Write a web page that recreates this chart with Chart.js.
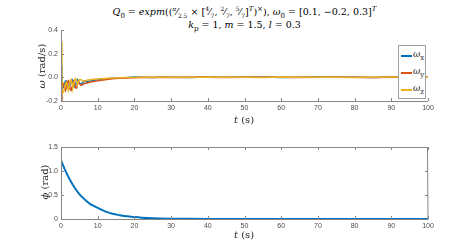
<!DOCTYPE html>
<html lang="en">
<head>
  <meta charset="UTF-8" />
  <title>Omega and phi response</title>
  <script src="https://cdn.jsdelivr.net/npm/chart.js"></script>
  <style>
    body {
      margin: 0;
      padding: 0;
      background: #fff;
      width: 473px;
      height: 248px;
      position: relative;
      overflow: hidden;
    }
    canvas { position: absolute; left: 0; }
    #c1 { top: 0; }
    #c2 { top: 130px; }
    .title {
      position: absolute;
      left: 8px;
      width: 473px;
      text-align: center;
      font-family: 'DejaVu Serif', serif;
      font-size: 9.5px;
      color: #000;
      white-space: nowrap;
    }
    .title i { font-style: italic; }
    .axlabel {
      position: absolute;
      font-family: 'DejaVu Serif', serif;
      font-size: 10px;
      color: #262626;
      white-space: nowrap;
    }
    .ylab { transform: translate(-50%, -50%) rotate(-90deg); }
    .xlab { transform: translate(-50%, -50%); }
    /* Legend box */
    .legend {
      position: absolute;
      left: 398px;
      top: 45px;
      width: 26px;
      height: 52px;
      border: 1px solid #a0a0a0;
      background: #fff;
      font-family: 'DejaVu Serif', serif;
      font-size: 9px;
      font-style: italic;
      color: #262626;
    }
    .legend .row { position: absolute; left: 2px; height: 12px; }
    .legend .sw { position: absolute; left: 0; top: 6px; width: 11px; height: 2px; }
    .legend .tx { position: absolute; left: 12px; top: 0; }
    .legend sub { font-size: 7px; font-style: normal; }
  </style>
</head>
<body>
  <div class="title" style="top:5px;"><i>Q</i><sub style="font-size:7px">0</sub> = <i>expm</i>((<sup style="font-size:6px"><i>π</i></sup>&frasl;<sub style="font-size:6px">2.5</sub> &times; [<sup style="font-size:6px">4</sup>&frasl;<sub style="font-size:6px">7</sub>, <sup style="font-size:6px">2</sup>&frasl;<sub style="font-size:6px">7</sub>, <sup style="font-size:6px">5</sup>&frasl;<sub style="font-size:6px">7</sub>]<sup style="font-size:7px"><i>T</i></sup>)<sup style="font-size:7px">&times;</sup>), <i>ω</i><sub style="font-size:7px">0</sub> = [0.1, &minus;0.2, 0.3]<sup style="font-size:7px"><i>T</i></sup></div>
  <div class="title" style="top:19px;"><i>k</i><sub style="font-size:7px"><i>p</i></sub> = 1, <i>m</i> = 1.5, <i>l</i> = 0.3</div>

  <canvas id="c1" width="473" height="130"></canvas>
  <canvas id="c2" width="473" height="118"></canvas>

  <div class="axlabel ylab" style="left:41px; top:66px;"><i>ω</i> (rad/s)</div>
  <div class="axlabel xlab" style="left:244px; top:119px;"><i>t</i> (s)</div>
  <div class="axlabel ylab" style="left:44px; top:182px;"><i>ϕ</i> (rad)</div>
  <div class="axlabel xlab" style="left:244px; top:234px;"><i>t</i> (s)</div>

  <div class="legend">
    <div class="row" style="top:3px;"><div class="sw" style="background:#0072BD"></div><div class="tx">ω<sub>x</sub></div></div>
    <div class="row" style="top:20px;"><div class="sw" style="background:#D95319"></div><div class="tx">ω<sub>y</sub></div></div>
    <div class="row" style="top:37px;"><div class="sw" style="background:#EDB120"></div><div class="tx">ω<sub>z</sub></div></div>
  </div>

  <script>
    // time samples for the angular velocity traces
    const tW = [0, 0.25, 0.5, 0.75, 1, 1.25, 1.5, 1.75, 2, 2.25, 2.5, 2.75, 3, 3.25, 3.5, 3.75, 4,
      4.25, 4.5, 4.75, 5, 5.5, 6, 6.5, 7, 7.5, 8, 9, 10, 11, 12, 13, 14, 15, 16, 18, 20, 22, 25, 28, 30,
      35, 40, 45, 50, 55, 60, 65, 70, 75, 80, 85, 90, 95, 100];
    const wx = [0.10, -0.07, -0.09, -0.08, -0.05, -0.03, -0.03, -0.05, -0.08, -0.09, -0.06, -0.03, -0.02,
      -0.04, -0.07, -0.08, -0.06, -0.03, -0.02, -0.03, -0.05, -0.06, -0.04, -0.03, -0.04, -0.035, -0.03,
      -0.025, -0.02, -0.016, -0.013, -0.01, -0.008, -0.006, -0.004, -0.002, 0.002, 0.001, -0.001, 0.002,
      0.001, -0.001, 0.002, 0.001, 0.0, 0.002, -0.001, 0.001, 0.002, 0.0, 0.001, -0.001, 0.002, 0.001, 0.0];
    const wy = [-0.20, -0.09, -0.05, -0.06, -0.09, -0.11, -0.08, -0.04, -0.03, -0.06, -0.10, -0.11, -0.08,
      -0.04, -0.03, -0.06, -0.09, -0.09, -0.06, -0.04, -0.05, -0.07, -0.06, -0.05, -0.05, -0.045, -0.04,
      -0.035, -0.03, -0.025, -0.02, -0.016, -0.013, -0.01, -0.008, -0.005, -0.003, -0.002, -0.001, 0.0,
      -0.001, 0.001, 0.0, -0.001, 0.001, 0.0, 0.001, -0.001, 0.0, 0.001, 0.0, -0.001, 0.001, 0.0, 0.0];
    const wz = [0.30, -0.12, -0.13, -0.12, -0.09, -0.05, -0.04, -0.07, -0.11, -0.08, -0.03, -0.02, -0.05,
      -0.09, -0.06, -0.02, -0.01, -0.03, -0.06, -0.04, -0.02, -0.02, -0.03, -0.03, -0.025, -0.022, -0.02,
      -0.017, -0.014, -0.012, -0.01, -0.008, -0.006, -0.005, -0.004, -0.002, -0.001, 0.0, 0.001, 0.0,
      0.001, -0.001, 0.002, 0.0, 0.001, -0.001, 0.002, 0.001, 0.0, 0.001, -0.001, 0.001, 0.002, 0.0, 0.001];

    // rotation angle
    const tPhi = [0, 1, 2, 3, 4, 5, 6, 7, 8, 9, 10, 12, 14, 16, 18, 20, 22, 25, 30, 35, 40, 50, 60, 70, 80, 90, 100];
    const phi = [1.22, 1.04, 0.88, 0.74, 0.62, 0.52, 0.44, 0.37, 0.31, 0.27, 0.23, 0.16, 0.11, 0.08, 0.055,
      0.04, 0.028, 0.016, 0.007, 0.003, 0.001, 0, 0, 0, 0, 0, 0];

    const xTicks = [0, 10, 20, 30, 40, 50, 60, 70, 80, 90, 100];
    const wTicks = [-0.2, 0, 0.2, 0.4];
    const phiTicks = [0, 0.5, 1, 1.5];

    const pts = (xs, ys) => xs.map((x, i) => ({ x: x, y: ys[i] }));

    // MATLAB style: inward ticks, optional full box
    const matlabAxes = {
      id: 'matlabAxes',
      afterDraw(chart, args, opts) {
        const { ctx, chartArea: a, scales } = chart;
        const xs = scales.x, ys = scales.y;
        ctx.save();
        ctx.strokeStyle = '#858585';
        ctx.lineWidth = 1;
        ctx.beginPath();
        ctx.moveTo(a.left + 0.5, a.top);
        ctx.lineTo(a.left + 0.5, a.bottom + 0.5);
        ctx.lineTo(a.right, a.bottom + 0.5);
        if (opts.box) {
          ctx.lineTo(a.right - 0.5, a.top + 0.5);
          ctx.lineTo(a.left, a.top + 0.5);
        }
        ctx.stroke();
        const len = 3;
        ctx.beginPath();
        xTicks.forEach(v => {
          const px = Math.round(xs.getPixelForValue(v)) + 0.5;
          ctx.moveTo(px, a.bottom);
          ctx.lineTo(px, a.bottom - len);
          if (opts.box) {
            ctx.moveTo(px, a.top);
            ctx.lineTo(px, a.top + len);
          }
        });
        opts.yTicks.forEach(v => {
          const py = Math.round(ys.getPixelForValue(v)) + 0.5;
          ctx.moveTo(a.left, py);
          ctx.lineTo(a.left + len, py);
          if (opts.box) {
            ctx.moveTo(a.right, py);
            ctx.lineTo(a.right - len, py);
          }
        });
        ctx.stroke();
        ctx.restore();
      }
    };

    function makeOptions(yMin, yMax, step, yTicks, box, topPad, xHeight) {
      return {
        responsive: false,
        animation: false,
        layout: { padding: { top: topPad, right: 45, left: 0, bottom: 0 } },
        plugins: {
          legend: { display: false },
          tooltip: { enabled: false },
          matlabAxes: { box: box, yTicks: yTicks }
        },
        scales: {
          x: {
            type: 'linear', min: 0, max: 100,
            ticks: { stepSize: 10, color: '#4d4d4d', font: { family: 'Liberation Sans', size: 7 }, padding: 3, maxRotation: 0 },
            grid: { display: false, drawTicks: false },
            border: { display: false },
            afterFit: s => { s.height = xHeight; }
          },
          y: {
            min: yMin, max: yMax,
            ticks: { stepSize: step, color: '#4d4d4d', font: { family: 'Liberation Sans', size: 7 }, padding: 3 },
            grid: { display: false, drawTicks: false },
            border: { display: false },
            afterFit: s => { s.width = 61; }
          }
        }
      };
    }

    new Chart(document.getElementById('c1'), {
      type: 'line',
      data: {
        datasets: [
          { label: 'ωx', data: pts(tW, wx), borderColor: '#0072BD', borderWidth: 1.5, pointRadius: 0, tension: 0, order: 3 },
          { label: 'ωy', data: pts(tW, wy), borderColor: '#D95319', borderWidth: 1.5, pointRadius: 0, tension: 0, order: 2 },
          { label: 'ωz', data: pts(tW, wz), borderColor: '#EDB120', borderWidth: 1.5, pointRadius: 0, tension: 0, order: 1 }
        ]
      },
      options: makeOptions(-0.2, 0.4, 0.2, wTicks, false, 30, 29),
      plugins: [matlabAxes]
    });

    new Chart(document.getElementById('c2'), {
      type: 'line',
      data: {
        datasets: [
          { label: 'ϕ', data: pts(tPhi, phi), borderColor: '#0072BD', borderWidth: 2, pointRadius: 0, cubicInterpolationMode: 'monotone' }
        ]
      },
      options: makeOptions(0, 1.5, 0.5, phiTicks, true, 17, 29),
      plugins: [matlabAxes]
    });
  </script>
</body>
</html>
